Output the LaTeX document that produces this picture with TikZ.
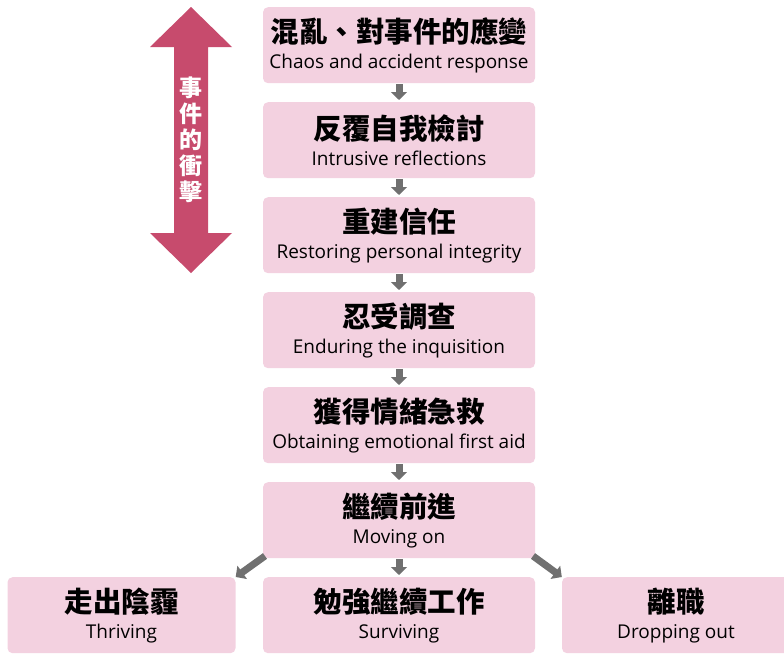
\documentclass[tikz,border=0pt]{standalone}
\usepackage{fontspec}
\setmainfont{Open Sans}
\newfontfamily\cjk{Noto Sans CJK TC}
\usetikzlibrary{arrows.meta}
\definecolor{boxpink}{HTML}{F3D1E0}
\definecolor{bigarrow}{HTML}{C74B6D}
\definecolor{arrgray}{HTML}{707070}
\tikzset{
  stage/.style={fill=boxpink, rounded corners=5pt, minimum width=272pt, minimum height=76pt, inner sep=0pt, align=center, anchor=north, font=\fontsize{19}{26}\selectfont},
  sidebox/.style={stage, minimum width=228pt},
  flow/.style={draw=arrgray, line width=7pt, -{Triangle[width=16pt,length=8pt]}},
}
\newcommand{\stagetext}[2]{{\cjk\bfseries\fontsize{28.5}{26}\selectfont #1}\\{\fontsize{19}{26}\selectfont #2}}
\begin{document}
\begin{tikzpicture}[x=1pt,y=-1pt]
\useasboundingbox (0,0) rectangle (784,653);
\clip (0,0) rectangle (784,653);
% big double arrow
\fill[bigarrow] (191,7) -- (232,47) -- (208,47) -- (208,233) -- (232,233) -- (191,273) -- (150,233) -- (174,233) -- (174,47) -- (150,47) -- cycle;
\node[font=\cjk\bfseries\fontsize{23}{26}\selectfont, text=white, align=center] (impact) at (191,140) {事\\件\\的\\衝\\擊};
% stages
\node[stage] (s1) at (399,7) {\stagetext{混亂、對事件的應變}{Chaos and accident response}};
\node[stage] (s2) at (399,102) {\stagetext{反覆自我檢討}{Intrusive reflections}};
\node[stage] (s3) at (399,197) {\stagetext{重建信任}{Restoring personal integrity}};
\node[stage] (s4) at (399,292) {\stagetext{忍受調查}{Enduring the inquisition}};
\node[stage] (s5) at (399,387) {\stagetext{獲得情緒急救}{Obtaining emotional first aid}};
\node[stage] (s6) at (399,482) {\stagetext{繼續前進}{Moving on}};
\node[stage] (s7) at (399,577) {\stagetext{勉強繼續工作}{Surviving}};
\node[sidebox] (left) at (121.5,577) {\stagetext{走出陰霾}{Thriving}};
\node[sidebox] (right) at (676,577) {\stagetext{離職}{Dropping out}};
% vertical flow
\foreach \a/\b in {s1/s2,s2/s3,s3/s4,s4/s5,s5/s6,s6/s7}
  \draw[flow, shorten <=1pt, shorten >=2pt] (\a.south) -- (\b.north);
% diagonal flows
\coordinate (ls) at (265,556);
\coordinate (rs) at (533,556);
\draw[flow] (ls) -- (left.north east);
\draw[flow] (rs) -- (right.north west);
\end{tikzpicture}
\end{document}
